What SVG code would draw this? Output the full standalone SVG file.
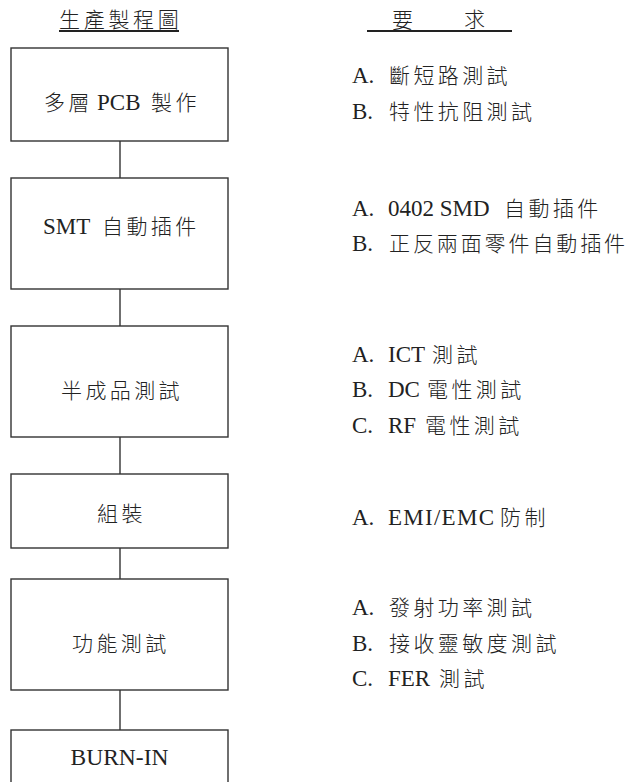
<svg xmlns="http://www.w3.org/2000/svg" width="629" height="782" viewBox="0 0 629 782">
<style>
.l { font-family: "Liberation Serif", "Times New Roman", "DejaVu Serif", serif; font-size: 23px; fill: #222; }
.c { font-family: "Noto Sans CJK TC", "Noto Sans CJK SC", sans-serif; font-size: 21px; letter-spacing: 3.4px; fill: #222; font-weight: 300; }
.box { fill: #fff; stroke: #333; stroke-width: 1.4; }
.conn line { stroke: #333; stroke-width: 1.4; }
.ul { stroke: #222; stroke-width: 1.8; }
</style>
<rect width="629" height="782" fill="#fff"/>

<g id="headings">
  <text class="c" x="59" y="27" style="letter-spacing:3.7px">生產製程圖</text>
  <line class="ul" x1="59" y1="31" x2="179" y2="31"/>
  <text class="c" x="392" y="27">要</text>
  <text class="c" x="464" y="27">求</text>
  <line class="ul" x1="367" y1="31" x2="512" y2="31"/>
</g>

<g class="conn" id="connectors">
  <line x1="120" y1="141" x2="120" y2="178"/>
  <line x1="120" y1="289" x2="120" y2="326"/>
  <line x1="120" y1="437" x2="120" y2="474"/>
  <line x1="120" y1="548" x2="120" y2="579"/>
  <line x1="120" y1="690" x2="120" y2="730"/>
</g>

<g id="node1">
  <rect class="box" x="11" y="48" width="217" height="93"/>
  <text class="l" y="110"><tspan class="c" x="44">多層</tspan><tspan x="97">PCB</tspan><tspan class="c" x="151">製作</tspan></text>
</g>
<g id="node2">
  <rect class="box" x="11" y="178" width="217" height="111"/>
  <text class="l" y="234"><tspan x="43">SMT</tspan><tspan class="c" x="102">自動插件</tspan></text>
</g>
<g id="node3">
  <rect class="box" x="11" y="326" width="217" height="111"/>
  <text class="c" x="61" y="398">半成品測試</text>
</g>
<g id="node4">
  <rect class="box" x="11" y="474" width="217" height="74"/>
  <text class="c" x="97" y="521">組裝</text>
</g>
<g id="node5">
  <rect class="box" x="11" y="579" width="217" height="111"/>
  <text class="c" x="72" y="651">功能測試</text>
</g>
<g id="node6">
  <rect class="box" x="11" y="730" width="217" height="70"/>
  <text class="l" x="119.5" y="765" text-anchor="middle" style="font-size:23.5px">BURN-IN</text>
</g>

<g id="req1">
  <text class="l" y="83"><tspan x="352">A.</tspan><tspan class="c" x="389">斷短路測試</tspan></text>
  <text class="l" y="119"><tspan x="352">B.</tspan><tspan class="c" x="389">特性抗阻測試</tspan></text>
</g>
<g id="req2">
  <text class="l" y="216"><tspan x="352">A.</tspan><tspan x="388">0402 SMD</tspan><tspan class="c" x="504">自動插件</tspan></text>
  <text class="l" y="251"><tspan x="352">B.</tspan><tspan class="c" x="389" style="letter-spacing:2.9px">正反兩面零件自動插件</tspan></text>
</g>
<g id="req3">
  <text class="l" y="362"><tspan x="352">A.</tspan><tspan x="388">ICT</tspan><tspan class="c" x="432">測試</tspan></text>
  <text class="l" y="397"><tspan x="352">B.</tspan><tspan x="388">DC</tspan><tspan class="c" x="427">電性測試</tspan></text>
  <text class="l" y="433"><tspan x="352">C.</tspan><tspan x="388">RF</tspan><tspan class="c" x="425">電性測試</tspan></text>
</g>
<g id="req4">
  <text class="l" y="525"><tspan x="352">A.</tspan><tspan x="388" textLength="106">EMI/EMC</tspan><tspan class="c" x="500">防制</tspan></text>
</g>
<g id="req5">
  <text class="l" y="615"><tspan x="352">A.</tspan><tspan class="c" x="389">發射功率測試</tspan></text>
  <text class="l" y="651"><tspan x="352">B.</tspan><tspan class="c" x="389">接收靈敏度測試</tspan></text>
  <text class="l" y="686"><tspan x="352">C.</tspan><tspan x="388">FER</tspan><tspan class="c" x="439">測試</tspan></text>
</g>
</svg>
